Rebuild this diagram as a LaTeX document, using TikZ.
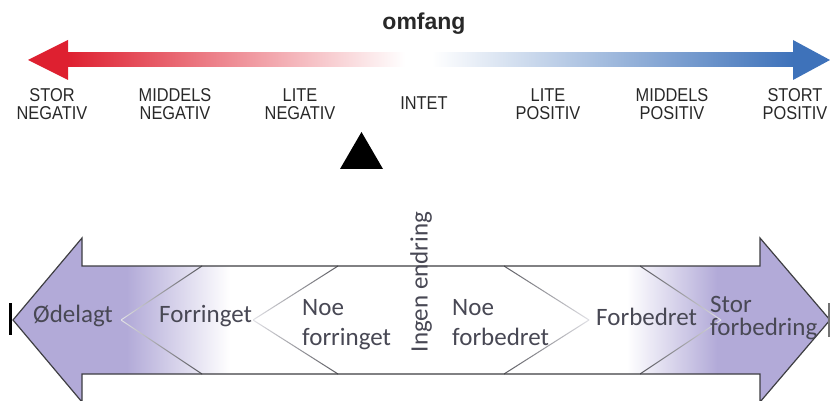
\documentclass[tikz,border=0pt]{standalone}
\usepackage{fontspec}
\setmainfont{Liberation Sans}
\newfontfamily\scalelabelfont{Liberation Sans}[FakeStretch=0.88]
\newfontfamily\levelfont{Carlito}

\definecolor{negred}{RGB}{222,32,48}
\definecolor{posblue}{RGB}{62,114,186}
\definecolor{lav}{RGB}{178,170,216}
\definecolor{edgegray}{RGB}{62,62,66}
\definecolor{linedark}{RGB}{90,90,96}
\definecolor{linelight}{RGB}{225,225,230}
\definecolor{toptext}{RGB}{40,40,40}
\definecolor{leveltext}{RGB}{72,72,84}

\tikzset{
  toplabel/.style={anchor=base, align=center, inner sep=0pt, text=toptext,
    font=\scalelabelfont\fontsize{18.6}{18}\selectfont},
  leveltxt/.style={inner sep=0pt, text=leveltext, align=left,
    font=\levelfont\fontsize{25}{30}\selectfont},
  outline/.style={draw=edgegray, line width=1.2pt, line join=miter},
  endbar/.style={line width=3pt},
}

% one shaded stroke of a chevron, colour running left to right
\newcommand\chevseg[6]{%
  \shade[left color=#5, right color=#6]
    (#1,#2-0.6) -- (#3,#4-0.6) -- (#3,#4+0.6) -- (#1,#2+0.6) -- cycle;}

\begin{document}
\begin{tikzpicture}[x=1pt,y=-1pt]
\useasboundingbox (0,0) rectangle (830,401);
\clip (0,0) rectangle (830,401);

% ---- scale arrow ----
\node[anchor=base, inner sep=0pt, text=toptext,
  font=\bfseries\fontsize{23}{23}\selectfont] (title) at (424,30) {omfang};

\fill[negred] (28,60) -- (68,40) -- (68,80) -- cycle;
\shade[left color=negred, right color=white] (67.5,53) rectangle (405,67);
\fill[white] (405,53) rectangle (432,67);
\shade[left color=white, right color=posblue] (432,53) rectangle (793.5,67);
\fill[posblue] (793,40) -- (830,60) -- (793,80) -- cycle;

% two-line labels are placed by the baseline of their last line
\node[toplabel] (sn) at (52,120)  {STOR\\NEGATIV};
\node[toplabel] (mn) at (175,120) {MIDDELS\\NEGATIV};
\node[toplabel] (ln) at (300,120) {LITE\\NEGATIV};
\node[toplabel] (in) at (424,110) {INTET};
\node[toplabel] (lp) at (548,120) {LITE\\POSITIV};
\node[toplabel] (mp) at (672,120) {MIDDELS\\POSITIV};
\node[toplabel] (sp) at (795,120) {STORT\\POSITIV};

% marker
\fill[black] (340,169) -- (383,169) -- (361.5,132) -- cycle;

% ---- double arrow of levels ----
\def\levelarrow{(13,320) -- (82,238) -- (82,266) -- (760,266) -- (760,238)
  -- (830,320) -- (760,402) -- (760,374) -- (82,374) -- (82,402) -- cycle}
\fill[white] \levelarrow;
\begin{scope}
  \clip \levelarrow;
  \fill[lav] (0,230) rectangle (127,410);
  \shade[left color=lav, right color=white] (126.5,230) rectangle (230,410);
  \shade[left color=white, right color=lav] (627,230) rectangle (717.5,410);
  \fill[lav] (717,230) rectangle (840,410);
\end{scope}

% chevrons separating the levels
\chevseg{121}{320}{202}{266}{linelight}{linedark}
\chevseg{121}{320}{202}{374}{linelight}{linedark}
\chevseg{253}{320}{338}{266}{linelight}{linedark}
\chevseg{253}{320}{338}{374}{linelight}{linedark}
\chevseg{504}{266}{589}{320}{linedark}{linelight}
\chevseg{504}{374}{589}{320}{linedark}{linelight}
\chevseg{640}{266}{721}{320}{linedark}{linelight}
\chevseg{640}{374}{721}{320}{linedark}{linelight}

\draw[outline] \levelarrow;
\draw[endbar, black] (10,303) -- (10,335);
\draw[endbar, black!55] (829,303) -- (829,337);

\node[leveltxt, anchor=base west] (odelagt) at (33,322) {Ødelagt};
\node[leveltxt, anchor=base west] (forringet) at (159,322) {Forringet};
\node[leveltxt, anchor=base west] (noeforr) at (302,345) {Noe\\forringet};
\node[leveltxt, rotate=90, anchor=center] (ingen) at (421,282) {Ingen endring};
\node[leveltxt, anchor=base west] (noeforb) at (452,345) {Noe\\forbedret};
\node[leveltxt, anchor=base west] (forbedret) at (596,325) {Forbedret};
\node[leveltxt, anchor=base west, font=\levelfont\fontsize{25}{23}\selectfont]
  (storforb) at (710,335) {Stor\\forbedring};
\end{tikzpicture}
\end{document}
